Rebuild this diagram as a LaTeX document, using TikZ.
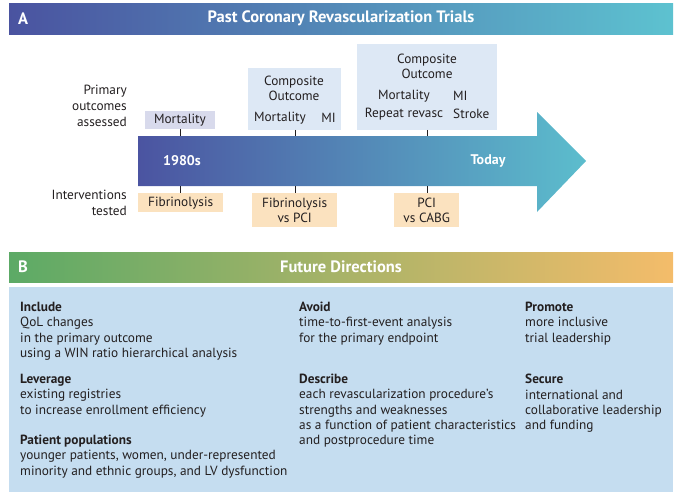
\documentclass[tikz,border=0pt]{standalone}
\usepackage{fontspec}
\setmainfont{PT Sans}
\definecolor{txt}{HTML}{231F20}
\definecolor{aL}{HTML}{4A53A0}
\definecolor{aR}{HTML}{5DC2D0}
\definecolor{arL}{HTML}{4B54A1}
\definecolor{arR}{HTML}{5CBDCD}
\definecolor{bL}{HTML}{5CAA66}
\definecolor{bR}{HTML}{F4BC6A}
\definecolor{lav}{HTML}{D8DAEC}
\definecolor{lblue}{HTML}{DDE8F5}
\definecolor{peach}{HTML}{FBE2BF}
\definecolor{body}{HTML}{C5DDF0}
\tikzset{
  every node/.style={text=txt, inner sep=0pt, font=\fontsize{13.3}{15}\selectfont},
  lbl/.style={align=right, anchor=east, font=\fontsize{13.3}{16}\selectfont},
  hdr/.style={text=white, font=\fontsize{16.5}{18}\selectfont\bfseries},
  yr/.style={text=white, font=\fontsize{14}{16}\selectfont\bfseries},
  col/.style={anchor=north west, align=left, font=\fontsize{13.3}{15.3}\selectfont},
  tick/.style={draw=txt, line width=0.8pt},
}
\begin{document}
\begin{tikzpicture}[x=1pt,y=-1pt]
\useasboundingbox (0,0) rectangle (680,498);
% Header A
\shade[left color=aL, right color=aR] (9,3) rectangle (673,34);
\node[hdr, anchor=west] (la) at (18,18.5) {A};
\node[hdr] (ta) at (341,18.5) {Past Coronary Revascularization Trials};
% Arrow
\shade[left color=arL, right color=arR] (138,136) -- (537,136) -- (537,112) -- (586,161) -- (537,212) -- (537,186) -- (138,186) -- cycle;
\coordinate (a1t) at (180,136); \coordinate (a2t) at (295,136); \coordinate (a3t) at (427,136);
\coordinate (a1b) at (180,186); \coordinate (a2b) at (295,186); \coordinate (a3b) at (427,186);
\node[yr] (y1) at (182,161) {1980s};
\node[yr] (y2) at (488,161) {Today};
% Left labels
\node[lbl] (po) at (127,106) {Primary\\outcomes\\assessed};
\node[lbl] (it) at (127,202.5) {Interventions\\tested};
% Outcome boxes
\node[fill=lav, minimum width=70, minimum height=18.5] (mort) at (180,120) {Mortality};
\node[fill=lblue, minimum width=93, minimum height=61.5, anchor=north west] (c1) at (248,68) {};
\node[align=center] (c1t) at (294,88.5) {Composite\\Outcome};
\node (c1m) at (280,118) {Mortality};
\node (c1i) at (328.5,118) {MI};
\node[fill=lblue, minimum width=140, minimum height=85.5, anchor=north west] (c2) at (357,44) {};
\node[align=center] (c2t) at (427,66) {Composite\\Outcome};
\node (c2m) at (404,96) {Mortality};
\node[anchor=west] (c2i) at (453,96) {MI};
\node (c2r) at (404,114) {Repeat revasc};
\node[anchor=west] (c2s) at (453,114) {Stroke};
% Intervention boxes
\node[fill=peach, minimum width=85, minimum height=19, anchor=north west] (fib) at (138,193) {Fibrinolysis};
\node[fill=peach, minimum width=85, minimum height=34, anchor=north west, align=center] (fpci) at (252,193) {Fibrinolysis\\vs PCI};
\node[fill=peach, minimum width=65, minimum height=34, anchor=north west, align=center] (pcab) at (394,193) {PCI\\vs CABG};
% Ticks
\draw[tick] (mort.south) -- (a1t);
\draw[tick] (c1.south -| a2t) -- (a2t);
\draw[tick] (c2.south -| a3t) -- (a3t);
\draw[tick] (a1b) -- (a1b |- fib.north);
\draw[tick] (a2b) -- (a2b |- fpci.north);
\draw[tick] (a3b) -- (a3b |- pcab.north);
% Header B
\shade[left color=bL, right color=bR] (9,252) rectangle (673,282);
\node[hdr, anchor=west] (lb) at (18,267) {B};
\node[hdr] (tb) at (341,267) {Future Directions};
% Body B
\fill[body] (9,287) rectangle (673,492);
\node[col] (inc) at (20,302) {\textbf{Include}\\QoL changes\\in the primary outcome\\using a WIN ratio hierarchical analysis};
\node[col] (lev) at (20,374) {\textbf{Leverage}\\existing registries\\to increase enrollment efficiency};
\node[col] (pat) at (20,435) {\textbf{Patient populations}\\younger patients, women, under-represented\\minority and ethnic groups, and LV dysfunction};
\node[col] (avo) at (299,302) {\textbf{Avoid}\\time-to-first-event analysis\\for the primary endpoint};
\node[col] (des) at (299,374) {\textbf{Describe}\\each revascularization procedure's\\strengths and weaknesses\\as a function of patient characteristics\\and postprocedure time};
\node[col] (pro) at (525,302) {\textbf{Promote}\\more inclusive\\trial leadership};
\node[col] (sec) at (525,374) {\textbf{Secure}\\international and\\collaborative leadership\\and funding};
\end{tikzpicture}
\end{document}
